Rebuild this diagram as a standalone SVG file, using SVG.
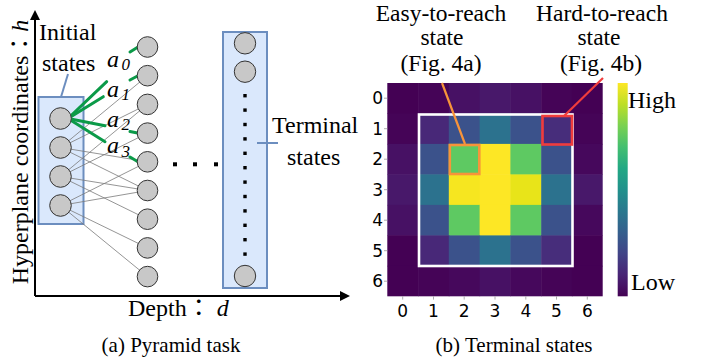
<svg xmlns="http://www.w3.org/2000/svg" width="704" height="364" viewBox="0 0 704 364">
<defs>
<style>
.serif{font-family:"Liberation Serif","Times New Roman","Noto Sans CJK JP",serif;fill:#000}
.lbl{font-size:24px}
.ttl{font-size:23.5px}
.cap{font-size:21px}
.it{font-style:italic}
.sub{font-size:17px;font-style:italic}
.tick{font-family:"DejaVu Sans",sans-serif;font-size:17px;fill:#000}
.node{fill:#c8c8c8;stroke:#333;stroke-width:1}
.box{fill:#dae8fc;stroke:#6c8ebf;stroke-width:2}
.gray{stroke:#7a7a7a;stroke-width:0.8;fill:none}
.green{stroke:#0b9a48;stroke-width:3;fill:none;stroke-linecap:round}
.blue{stroke:#6c8ebf;stroke-width:2;fill:none}
.axis{stroke:#000;stroke-width:2;fill:none}
.dot{fill:#000}
</style>
<marker id="arr" markerWidth="10" markerHeight="10" refX="8" refY="5" orient="auto" markerUnits="userSpaceOnUse">
<path d="M0,0 L10,5 L0,10 Z" fill="#000"/>
</marker>
<linearGradient id="vir" x1="0" y1="1" x2="0" y2="0">
<stop offset="0" stop-color="#440154"/>
<stop offset="0.1" stop-color="#482475"/>
<stop offset="0.2" stop-color="#414487"/>
<stop offset="0.3" stop-color="#355f8d"/>
<stop offset="0.4" stop-color="#2a788e"/>
<stop offset="0.5" stop-color="#21918c"/>
<stop offset="0.6" stop-color="#22a884"/>
<stop offset="0.7" stop-color="#44bf70"/>
<stop offset="0.8" stop-color="#7ad151"/>
<stop offset="0.9" stop-color="#bddf26"/>
<stop offset="1" stop-color="#fde725"/>
</linearGradient>
</defs>
<rect width="704" height="364" fill="#fff"/>

<!-- Left panel: axes -->
<g id="axes">
<line class="axis" x1="35" y1="296" x2="35" y2="12" marker-end="url(#arr)"/>
<line class="axis" x1="35" y1="296" x2="348" y2="296" marker-end="url(#arr)"/>
<text class="serif lbl" transform="translate(28,152) rotate(-90)" text-anchor="middle">Hyperplane coordinates：<tspan class="it">h</tspan></text>
<text class="serif lbl" x="128" y="316">Depth： <tspan class="it">d</tspan></text>
</g>

<!-- Boxes -->
<g id="initial-box">
<rect class="box" x="38.5" y="97" width="45" height="127"/>
<text class="serif lbl" x="39" y="40">Initial</text>
<text class="serif lbl" x="42" y="71">states</text>
</g>
<g id="terminal-box">
<rect class="box" x="223" y="32" width="44" height="256"/>
<text class="serif lbl" x="272" y="133">Terminal</text>
<text class="serif lbl" x="287" y="165">states</text>
</g>

<!-- Connectors -->
<g id="connectors">
<line class="blue" x1="68" y1="74" x2="61" y2="97"/>
<line class="blue" x1="257" y1="143" x2="278" y2="143"/>
<line class="gray" x1="60.5" y1="147.5" x2="147.5" y2="75.7"/>
<line class="gray" x1="60.5" y1="147.5" x2="147.5" y2="104.4"/>
<line class="gray" x1="60.5" y1="147.5" x2="147.5" y2="161.8"/>
<line class="gray" x1="60.5" y1="147.5" x2="147.5" y2="190.5"/>
<line class="gray" x1="60.5" y1="176.5" x2="147.5" y2="104.4"/>
<line class="gray" x1="60.5" y1="176.5" x2="147.5" y2="133.1"/>
<line class="gray" x1="60.5" y1="176.5" x2="147.5" y2="190.5"/>
<line class="gray" x1="60.5" y1="176.5" x2="147.5" y2="219.2"/>
<line class="gray" x1="60.5" y1="205.5" x2="147.5" y2="161.8"/>
<line class="gray" x1="60.5" y1="205.5" x2="147.5" y2="190.5"/>
<line class="gray" x1="60.5" y1="205.5" x2="147.5" y2="247.9"/>
<line class="gray" x1="60.5" y1="205.5" x2="147.5" y2="276.6"/>
<line class="green" x1="68" y1="118.5" x2="106.7" y2="81.7"/>
<line class="green" x1="68" y1="118.5" x2="103.3" y2="96.7"/>
<line class="green" x1="68" y1="118.5" x2="105" y2="125.7"/>
<line class="green" x1="68" y1="118.5" x2="105" y2="141.7"/>
<line class="green" x1="130" y1="52" x2="138" y2="47"/>
<line class="green" x1="130" y1="80" x2="137.5" y2="76"/>
<line class="green" x1="130" y1="131.5" x2="137.5" y2="133"/>
<line class="green" x1="130" y1="157" x2="137.5" y2="161.5"/>
</g>

<!-- Action labels -->
<g id="action-labels">
<text class="serif lbl it" x="107" y="67">a</text><text class="serif sub" x="121.5" y="70">0</text>
<text class="serif lbl it" x="107" y="96.5">a</text><text class="serif sub" x="121.5" y="100">1</text>
<text class="serif lbl it" x="107" y="126.5">a</text><text class="serif sub" x="121.5" y="130">2</text>
<text class="serif lbl it" x="107" y="153">a</text><text class="serif sub" x="121.5" y="157">3</text>
</g>

<!-- Nodes -->
<g id="initial-nodes">
<circle class="node" cx="60.5" cy="118.5" r="10.8"/>
<circle class="node" cx="60.5" cy="147.5" r="10.8"/>
<circle class="node" cx="60.5" cy="176.5" r="10.8"/>
<circle class="node" cx="60.5" cy="205.5" r="10.8"/>
</g>
<g id="depth1-nodes">
<circle class="node" cx="147.5" cy="47" r="10.3"/>
<circle class="node" cx="147.5" cy="75.7" r="10.3"/>
<circle class="node" cx="147.5" cy="104.4" r="10.3"/>
<circle class="node" cx="147.5" cy="133.1" r="10.3"/>
<circle class="node" cx="147.5" cy="161.8" r="10.3"/>
<circle class="node" cx="147.5" cy="190.5" r="10.3"/>
<circle class="node" cx="147.5" cy="219.2" r="10.3"/>
<circle class="node" cx="147.5" cy="247.9" r="10.3"/>
<circle class="node" cx="147.5" cy="276.6" r="10.3"/>
</g>
<g id="ellipsis-h">
<rect class="dot" x="173" y="162.3" width="4" height="4"/>
<rect class="dot" x="193" y="162.3" width="4" height="4"/>
<rect class="dot" x="214" y="162.3" width="4" height="4"/>
</g>
<g id="terminal-nodes">
<circle class="node" cx="245" cy="43.3" r="10.7"/>
<circle class="node" cx="245" cy="71.7" r="10.7"/>
<circle class="node" cx="245" cy="276" r="10.7"/>
<rect class="dot" x="243.3" y="94" width="3.4" height="3.4"/>
<rect class="dot" x="243.3" y="108.4" width="3.4" height="3.4"/>
<rect class="dot" x="243.3" y="122.8" width="3.4" height="3.4"/>
<rect class="dot" x="243.3" y="137.2" width="3.4" height="3.4"/>
<rect class="dot" x="243.3" y="151.6" width="3.4" height="3.4"/>
<rect class="dot" x="243.3" y="166" width="3.4" height="3.4"/>
<rect class="dot" x="243.3" y="180.4" width="3.4" height="3.4"/>
<rect class="dot" x="243.3" y="194.8" width="3.4" height="3.4"/>
<rect class="dot" x="243.3" y="209.2" width="3.4" height="3.4"/>
<rect class="dot" x="243.3" y="223.6" width="3.4" height="3.4"/>
<rect class="dot" x="243.3" y="238" width="3.4" height="3.4"/>
<rect class="dot" x="243.3" y="252.4" width="3.4" height="3.4"/>
</g>
<text class="serif cap" x="171" y="352" text-anchor="middle">(a) Pyramid task</text>

<!-- Right panel: heatmap -->
<g id="heatmap">
<g>
<rect x="387.3" y="83" width="31.3" height="31" fill="#440154"/>
<rect x="418.1" y="83" width="31.3" height="31" fill="#450457"/>
<rect x="448.8" y="83" width="31.3" height="31" fill="#471164"/>
<rect x="479.6" y="83" width="31.3" height="31" fill="#48186a"/>
<rect x="510.4" y="83" width="31.3" height="31" fill="#471164"/>
<rect x="541.2" y="83" width="31.3" height="31" fill="#450457"/>
<rect x="571.9" y="83" width="30.8" height="31" fill="#440154"/>

<rect x="387.3" y="113.5" width="31.3" height="31" fill="#450457"/>
<rect x="418.1" y="113.5" width="31.3" height="31" fill="#482878"/>
<rect x="448.8" y="113.5" width="31.3" height="31" fill="#3b528b"/>
<rect x="479.6" y="113.5" width="31.3" height="31" fill="#2c728e"/>
<rect x="510.4" y="113.5" width="31.3" height="31" fill="#3b528b"/>
<rect x="541.2" y="113.5" width="31.3" height="31" fill="#472d7b"/>
<rect x="571.9" y="113.5" width="30.8" height="31" fill="#450457"/>

<rect x="387.3" y="143.9" width="31.3" height="31" fill="#471164"/>
<rect x="418.1" y="143.9" width="31.3" height="31" fill="#3b528b"/>
<rect x="448.8" y="143.9" width="31.3" height="31" fill="#5ec962"/>
<rect x="479.6" y="143.9" width="31.3" height="31" fill="#fde725"/>
<rect x="510.4" y="143.9" width="31.3" height="31" fill="#5ec962"/>
<rect x="541.2" y="143.9" width="31.3" height="31" fill="#3b528b"/>
<rect x="571.9" y="143.9" width="30.8" height="31" fill="#46085c"/>

<rect x="387.3" y="174.4" width="31.3" height="31" fill="#48186a"/>
<rect x="418.1" y="174.4" width="31.3" height="31" fill="#2c728e"/>
<rect x="448.8" y="174.4" width="31.3" height="31" fill="#f6e620"/>
<rect x="479.6" y="174.4" width="31.3" height="31" fill="#fde725"/>
<rect x="510.4" y="174.4" width="31.3" height="31" fill="#e8e419"/>
<rect x="541.2" y="174.4" width="31.3" height="31" fill="#2c728e"/>
<rect x="571.9" y="174.4" width="30.8" height="31" fill="#48186a"/>

<rect x="387.3" y="204.9" width="31.3" height="31" fill="#471164"/>
<rect x="418.1" y="204.9" width="31.3" height="31" fill="#3b528b"/>
<rect x="448.8" y="204.9" width="31.3" height="31" fill="#5ec962"/>
<rect x="479.6" y="204.9" width="31.3" height="31" fill="#fde725"/>
<rect x="510.4" y="204.9" width="31.3" height="31" fill="#5ec962"/>
<rect x="541.2" y="204.9" width="31.3" height="31" fill="#3b528b"/>
<rect x="571.9" y="204.9" width="30.8" height="31" fill="#46085c"/>

<rect x="387.3" y="235.4" width="31.3" height="31" fill="#440154"/>
<rect x="418.1" y="235.4" width="31.3" height="31" fill="#482878"/>
<rect x="448.8" y="235.4" width="31.3" height="31" fill="#3b528b"/>
<rect x="479.6" y="235.4" width="31.3" height="31" fill="#2c728e"/>
<rect x="510.4" y="235.4" width="31.3" height="31" fill="#3b528b"/>
<rect x="541.2" y="235.4" width="31.3" height="31" fill="#472d7b"/>
<rect x="571.9" y="235.4" width="30.8" height="31" fill="#440154"/>

<rect x="387.3" y="265.8" width="31.3" height="30.5" fill="#440154"/>
<rect x="418.1" y="265.8" width="31.3" height="30.5" fill="#450457"/>
<rect x="448.8" y="265.8" width="31.3" height="30.5" fill="#46085c"/>
<rect x="479.6" y="265.8" width="31.3" height="30.5" fill="#471164"/>
<rect x="510.4" y="265.8" width="31.3" height="30.5" fill="#46085c"/>
<rect x="541.2" y="265.8" width="31.3" height="30.5" fill="#450457"/>
<rect x="571.9" y="265.8" width="30.8" height="30.5" fill="#440154"/>
</g>
<rect x="419" y="114.5" width="153.5" height="151.5" fill="none" stroke="#fff" stroke-width="2.6"/>
<g stroke="#999" stroke-width="0.8">
<line x1="384" y1="98.2" x2="387.3" y2="98.2"/>
<line x1="384" y1="128.7" x2="387.3" y2="128.7"/>
<line x1="384" y1="159.2" x2="387.3" y2="159.2"/>
<line x1="384" y1="189.7" x2="387.3" y2="189.7"/>
<line x1="384" y1="220.2" x2="387.3" y2="220.2"/>
<line x1="384" y1="250.7" x2="387.3" y2="250.7"/>
<line x1="384" y1="281.2" x2="387.3" y2="281.2"/>
<line x1="402.7" y1="296.3" x2="402.7" y2="299.6"/>
<line x1="433.5" y1="296.3" x2="433.5" y2="299.6"/>
<line x1="464.2" y1="296.3" x2="464.2" y2="299.6"/>
<line x1="495" y1="296.3" x2="495" y2="299.6"/>
<line x1="525.8" y1="296.3" x2="525.8" y2="299.6"/>
<line x1="556.5" y1="296.3" x2="556.5" y2="299.6"/>
<line x1="587.3" y1="296.3" x2="587.3" y2="299.6"/>
</g>
<g class="tick" text-anchor="end">
<text x="383" y="104.3">0</text>
<text x="383" y="134.8">1</text>
<text x="383" y="165.3">2</text>
<text x="383" y="195.8">3</text>
<text x="383" y="226.3">4</text>
<text x="383" y="256.8">5</text>
<text x="383" y="287.3">6</text>
</g>
<g class="tick" text-anchor="middle">
<text x="402.7" y="317">0</text>
<text x="433.5" y="317">1</text>
<text x="464.2" y="317">2</text>
<text x="495" y="317">3</text>
<text x="525.8" y="317">4</text>
<text x="556.5" y="317">5</text>
<text x="587.3" y="317">6</text>
</g>
</g>

<g id="colorbar">
<rect x="617.7" y="83" width="10" height="213.3" fill="url(#vir)"/>
<text class="serif lbl" x="628" y="108">High</text>
<text class="serif lbl" x="631" y="290">Low</text>
</g>

<g id="easy-callout">
<text class="serif ttl" x="441" y="21" text-anchor="middle">Easy-to-reach</text>
<text class="serif ttl" x="442" y="45" text-anchor="middle">state</text>
<text class="serif ttl" x="441" y="71" text-anchor="middle">(Fig. 4a)</text>
<line x1="442" y1="83" x2="465" y2="144" stroke="#f7943a" stroke-width="2.2"/>
<rect x="449.8" y="145" width="29.5" height="29" fill="none" stroke="#f7943a" stroke-width="2.6"/>
</g>
<g id="hard-callout">
<text class="serif ttl" x="602" y="21" text-anchor="middle">Hard-to-reach</text>
<text class="serif ttl" x="599" y="45" text-anchor="middle">state</text>
<text class="serif ttl" x="601" y="71" text-anchor="middle">(Fig. 4b)</text>
<line x1="603" y1="78" x2="564" y2="116" stroke="#f03c3c" stroke-width="2.2"/>
<rect x="542.5" y="116" width="29.5" height="28.5" fill="none" stroke="#f03c3c" stroke-width="2.6"/>
</g>
<text class="serif cap" x="514" y="352" text-anchor="middle">(b) Terminal states</text>
</svg>
